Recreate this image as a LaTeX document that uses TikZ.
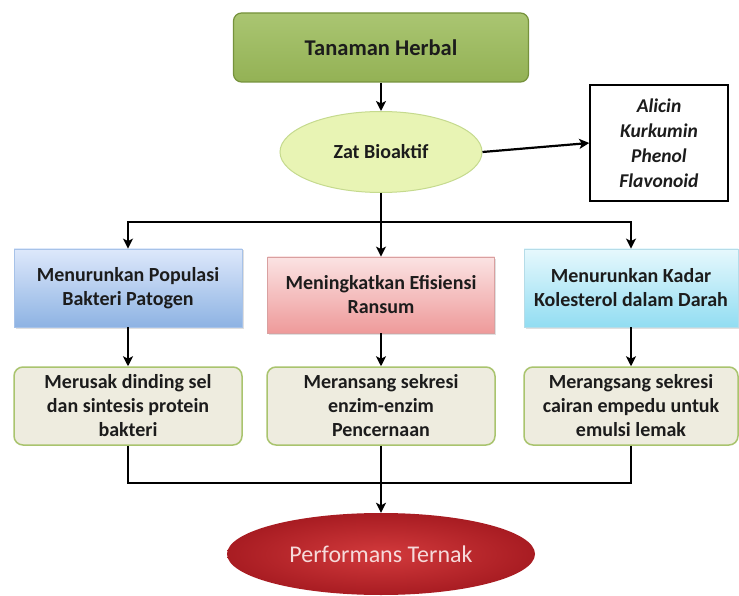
\documentclass[tikz,border=0pt]{standalone}
\usepackage{fontspec}
\setmainfont{Carlito}
\usetikzlibrary{shapes.geometric,arrows.meta,shadows}
\definecolor{herbfill}{HTML}{9BBB59}
\definecolor{herbdraw}{HTML}{76923C}
\definecolor{zatfill}{HTML}{E8F4B4}
\definecolor{zatdraw}{HTML}{C5DA8E}
\definecolor{bluetop}{HTML}{DDE8FB}
\definecolor{bluebot}{HTML}{8EB3E3}
\definecolor{bluedraw}{HTML}{A7C2E8}
\definecolor{pinktop}{HTML}{FBE3E3}
\definecolor{pinkbot}{HTML}{EE9A9A}
\definecolor{pinkdraw}{HTML}{D9A0A0}
\definecolor{cyantop}{HTML}{E6F8FD}
\definecolor{cyanbot}{HTML}{92DDF2}
\definecolor{cyandraw}{HTML}{B5DCE8}
\definecolor{resfill}{HTML}{EEECDF}
\definecolor{resdraw}{HTML}{A9C46E}
\definecolor{redin}{HTML}{D23A3C}
\definecolor{redout}{HTML}{A81C22}
\definecolor{perftext}{HTML}{F6DADA}
\definecolor{txt}{HTML}{1C1C1C}
\begin{document}
\begin{tikzpicture}[x=1pt,y=-1pt,
  conn/.style={line width=2.2pt,black},
  arr/.style={conn,-{Stealth[length=10pt,width=10pt,inset=2.5pt]}},
  effbox/.style={rectangle,draw,line width=0.8pt,text=txt,align=center,inner sep=1pt,
    font=\fontsize{20}{24}\selectfont\bfseries,
    drop shadow={shadow xshift=1.5pt,shadow yshift=-1.5pt,opacity=0.25}},
  resbox/.style={rectangle,rounded corners=9pt,draw=resdraw,fill=resfill,line width=1.5pt,
    text=txt,align=center,minimum width=228pt,minimum height=78pt,inner sep=1pt,
    font=\fontsize{20}{24}\selectfont\bfseries}]
\useasboundingbox (0,0) rectangle (739,596);
\fill[white] (0,0) rectangle (739,596);

\node[rectangle,rounded corners=8pt,draw=herbdraw,line width=1.2pt,
  top color=herbfill!85!white,bottom color=herbfill!95!black,
  minimum width=295pt,minimum height=69pt,text=txt,
  font=\fontsize{22.5}{26}\selectfont\bfseries] (herbal) at (381,47.5) {Tanaman Herbal};

\node[ellipse,draw=zatdraw,line width=1pt,fill=zatfill,minimum width=202pt,minimum height=81pt,
  inner sep=0pt,text=txt,font=\fontsize{20}{22}\selectfont\bfseries] (zat) at (381,152) {Zat Bioaktif};

\node[rectangle,draw=black,line width=1.5pt,minimum width=138pt,minimum height=116pt,
  align=center,text=txt,font=\fontsize{19.5}{25}\selectfont\bfseries\itshape] (alicin) at (659,143)
  {Alicin\\Kurkumin\\Phenol\\Flavonoid};

\node[effbox,draw=bluedraw,top color=bluetop,bottom color=bluebot,minimum width=228pt,minimum height=78pt] (b1) at (128,288)
  {Menurunkan Populasi\\Bakteri Patogen};
\node[effbox,draw=pinkdraw,top color=pinktop,bottom color=pinkbot,minimum width=227pt,minimum height=76pt] (b2) at (381,295)
  {Meningkatkan Efisiensi\\Ransum};
\node[effbox,draw=cyandraw,top color=cyantop,bottom color=cyanbot,minimum width=214pt,minimum height=78pt] (b3) at (631,288)
  {Menurunkan Kadar\\Kolesterol dalam Darah};

\node[resbox] (c1) at (128,406) {Merusak dinding sel\\dan sintesis protein\\bakteri};
\node[resbox] (c2) at (381,406) {Meransang sekresi\\enzim-enzim\\Pencernaan};
\node[resbox,minimum width=214pt] (c3) at (631,406) {Merangsang sekresi\\cairan empedu untuk\\emulsi lemak};

\node[ellipse,draw=none,inner color=redin,outer color=redout,minimum width=308pt,minimum height=82pt,
  inner sep=0pt,text=perftext,font=\fontsize{24}{28}\selectfont] (perf) at (381,554) {Performans Ternak};

\coordinate (split) at (381,222);
\coordinate (merge) at (381,483);

\draw[arr] (herbal.south) -- (zat.north);
\draw[arr] (zat.east) -- (alicin.west);
\draw[conn] (zat.south) -- (split);
\draw[arr] (split) -| (b1.north);
\draw[arr] (split) -- (b2.north);
\draw[arr] (split) -| (b3.north);
\draw[arr] (b1.south) -- (c1.north);
\draw[arr] (b2.south) -- (c2.north);
\draw[arr] (b3.south) -- (c3.north);
\draw[conn] (c1.south) |- (merge);
\draw[conn] (c3.south) |- (merge);
\draw[arr] (c2.south) -- (perf.north);
\end{tikzpicture}
\end{document}
